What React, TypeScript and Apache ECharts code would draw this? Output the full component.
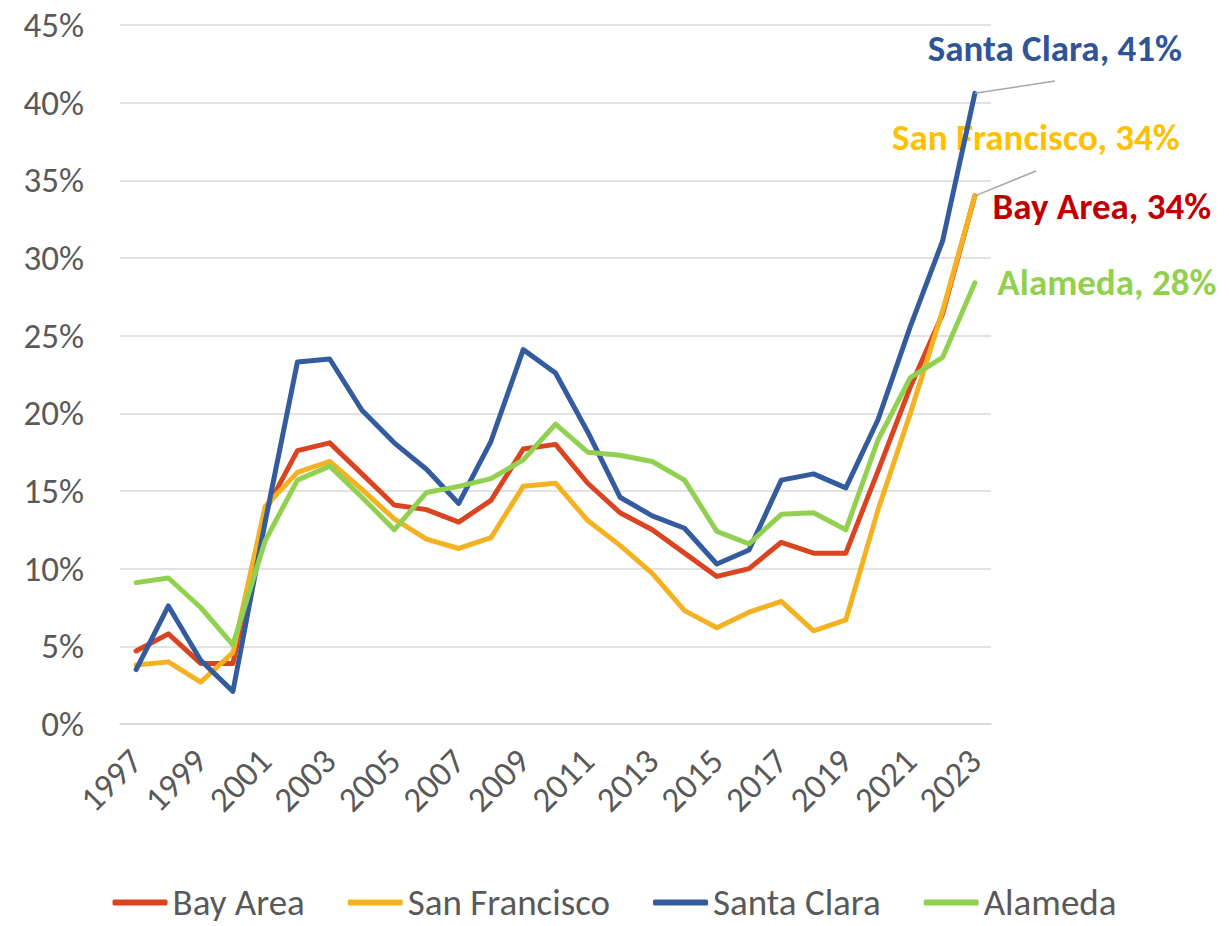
import React, { useEffect, useRef } from "react";
import * as echarts from "echarts";

const years = [
  "1997", "1998", "1999", "2000", "2001", "2002", "2003", "2004", "2005", "2006",
  "2007", "2008", "2009", "2010", "2011", "2012", "2013", "2014", "2015", "2016",
  "2017", "2018", "2019", "2020", "2021", "2022", "2023",
];

const bayArea = [4.7, 5.8, 3.9, 3.9, 13.7, 17.6, 18.1, 16.1, 14.1, 13.8, 13.0, 14.4, 17.7, 18.0, 15.5, 13.6, 12.5, 11.0, 9.5, 10.0, 11.7, 11.0, 11.0, 16.3, 21.7, 26.4, 34.0];
const sanFrancisco = [3.8, 4.0, 2.7, 4.6, 14.0, 16.2, 16.9, 15.1, 13.2, 11.9, 11.3, 12.0, 15.3, 15.5, 13.1, 11.5, 9.7, 7.3, 6.2, 7.2, 7.9, 6.0, 6.7, 13.8, 20.0, 26.6, 34.0];
const santaClara = [3.5, 7.6, 4.1, 2.1, 13.0, 23.3, 23.5, 20.2, 18.1, 16.4, 14.2, 18.2, 24.1, 22.6, 18.8, 14.6, 13.4, 12.6, 10.3, 11.2, 15.7, 16.1, 15.2, 19.6, 25.6, 31.1, 40.6];
const alameda = [9.1, 9.4, 7.5, 5.1, 11.8, 15.7, 16.6, 14.6, 12.5, 14.9, 15.3, 15.8, 17.0, 19.3, 17.5, 17.3, 16.9, 15.7, 12.4, 11.6, 13.5, 13.6, 12.5, 18.3, 22.3, 23.6, 28.4];

const seriesNames = ["Bay Area", "San Francisco", "Santa Clara", "Alameda"];
const lineColors = ["#DA4420", "#F4B122", "#335B9E", "#92D050"];
const labelColors = ["#C00000", "#FFC000", "#2F5597", "#92D050"];

const FONT = "Carlito, Calibri, Lato, sans-serif";

export default function App() {
  const ref = useRef<HTMLDivElement>(null);

  useEffect(() => {
    if (!ref.current) return;
    const chart = echarts.init(ref.current, undefined, { renderer: "svg" });
    const allData = [bayArea, sanFrancisco, santaClara, alameda];
    const offsets = [
      { dx: 127, dy: 11, leader: null as null | { x: number; y: number } },
      { dx: 61, dy: -58, leader: { x: 1036, y: 171 } },
      { dx: 80, dy: -45, leader: { x: 1055, y: 81 } },
      { dx: 132, dy: 0, leader: null },
    ];
    const series = seriesNames.map((name, si) => {
      const d = allData[si];
      const last = d.length - 1;
      const leader = offsets[si].leader;
      return {
        name,
        type: "line",
        symbol: "none",
        z: 2 + si,
        data: d.map((v, i) =>
          i === last
            ? {
                value: v,
                symbol: "circle",
                symbolSize: 2,
                label: {
                  show: true,
                  position: "inside",
                  formatter: `${name}, ${Math.round(v)}%`,
                  color: labelColors[si],
                  fontFamily: FONT,
                  fontWeight: "bold",
                  fontSize: 37,
                },
              }
            : v
        ),
        lineStyle: { color: lineColors[si], width: 5, cap: "round", join: "round" },
        itemStyle: { color: lineColors[si] },
        labelLayout: { dx: offsets[si].dx, dy: offsets[si].dy },
        markLine: leader
          ? {
              silent: true,
              symbol: ["none", "none"],
              animation: false,
              label: { show: false },
              lineStyle: { color: "#A6A6A6", width: 1.5, type: "solid" },
              data: [[{ coord: [years[last], d[last]] }, { x: leader.x, y: leader.y }]],
            }
          : undefined,
        emphasis: { disabled: true },
      };
    });

    chart.setOption({
      animation: false,
      backgroundColor: "#ffffff",
      textStyle: { fontFamily: FONT },
      grid: { left: 120, right: 238, top: 25, bottom: 202, containLabel: false },
      xAxis: {
        type: "category",
        data: years,
        boundaryGap: true,
        axisTick: { show: false },
        axisLine: { show: true, lineStyle: { color: "#D9D9D9", width: 1.5 } },
        axisLabel: {
          interval: 1,
          rotate: 45,
          margin: 31,
          color: "#595959",
          fontSize: 35,
          fontFamily: FONT,
        },
      },
      yAxis: {
        type: "value",
        min: 0,
        max: 45,
        interval: 5,
        axisLine: { show: false },
        axisTick: { show: false },
        splitLine: { lineStyle: { color: "#D9D9D9", width: 1.5 } },
        axisLabel: {
          formatter: "{value}%",
          color: "#595959",
          fontSize: 35,
          fontFamily: FONT,
          margin: 36,
        },
      },
      legend: {
        bottom: 0,
        left: "center",
        icon: "roundRect",
        itemWidth: 55,
        itemHeight: 6,
        itemGap: 43,
        data: seriesNames,
        textStyle: { color: "#595959", fontSize: 37, lineHeight: 30, fontFamily: FONT },
      },
      series,
    });
    return () => chart.dispose();
  }, []);

  return (
    <div
      ref={ref}
      style={{ position: "absolute", left: 0, top: 0, width: 1229, height: 926 }}
    />
  );
}
